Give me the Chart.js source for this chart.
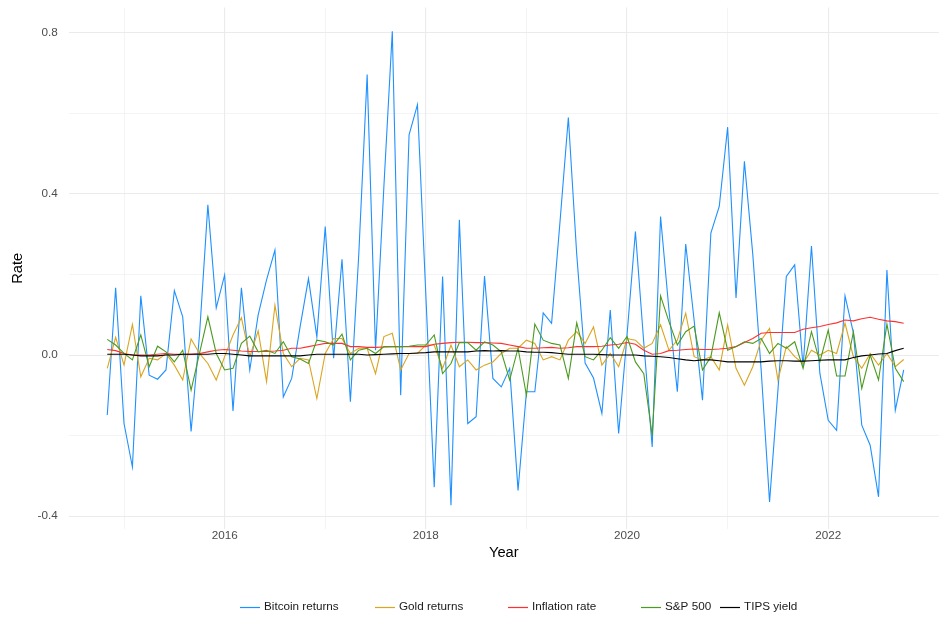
<!DOCTYPE html>
<html><head><meta charset="utf-8">
<script src="https://cdn.jsdelivr.net/npm/chart.js@4"></script>
<style>html,body{margin:0;padding:0;background:#fff}canvas{display:block}</style>
</head><body>
<canvas id="c" width="940" height="622"></canvas>
<script>
const months = [
'2014-11','2014-12',
'2015-01','2015-02','2015-03','2015-04','2015-05','2015-06','2015-07','2015-08','2015-09','2015-10','2015-11','2015-12',
'2016-01','2016-02','2016-03','2016-04','2016-05','2016-06','2016-07','2016-08','2016-09','2016-10','2016-11','2016-12',
'2017-01','2017-02','2017-03','2017-04','2017-05','2017-06','2017-07','2017-08','2017-09','2017-10','2017-11','2017-12',
'2018-01','2018-02','2018-03','2018-04','2018-05','2018-06','2018-07','2018-08','2018-09','2018-10','2018-11','2018-12',
'2019-01','2019-02','2019-03','2019-04','2019-05','2019-06','2019-07','2019-08','2019-09','2019-10','2019-11','2019-12',
'2020-01','2020-02','2020-03','2020-04','2020-05','2020-06','2020-07','2020-08','2020-09','2020-10','2020-11','2020-12',
'2021-01','2021-02','2021-03','2021-04','2021-05','2021-06','2021-07','2021-08','2021-09','2021-10','2021-11','2021-12',
'2022-01','2022-02','2022-03','2022-04','2022-05','2022-06','2022-07','2022-08','2022-09','2022-10'];

const bitcoinReturns = [
-0.149,0.167,
-0.170,-0.278,0.147,-0.050,-0.060,-0.037,0.160,0.095,-0.190,0.050,0.373,0.117,
0.199,-0.139,0.167,-0.037,0.100,0.187,0.261,-0.104,-0.058,0.070,0.190,0.045,
0.319,-0.008,0.238,-0.116,0.250,0.697,0.012,0.420,0.804,-0.100,0.547,0.622,
0.150,-0.328,0.195,-0.373,0.336,-0.170,-0.153,0.196,-0.058,-0.079,-0.033,-0.336,
-0.091,-0.091,0.105,0.079,0.330,0.590,0.250,-0.020,-0.057,-0.145,0.112,-0.195,
0.050,0.307,0.030,-0.228,0.344,0.112,-0.091,0.276,0.087,-0.112,0.303,0.369,
0.566,0.142,0.481,0.250,-0.037,-0.365,-0.087,0.195,0.224,-0.029,0.271,-0.045,
-0.162,-0.187,0.147,0.055,-0.174,-0.224,-0.352,0.211,-0.137,-0.037];

const goldReturns = [
-0.033,0.044,
-0.025,0.076,-0.054,-0.008,-0.012,0.004,-0.025,-0.062,0.040,0.004,-0.021,-0.062,
-0.004,0.050,0.093,-0.004,0.060,-0.066,0.124,0.004,-0.029,-0.008,-0.012,-0.108,
0.004,0.041,0.041,0.004,0.017,0.017,-0.046,0.046,0.054,-0.037,0.004,0.004,
0.025,0.025,-0.033,0.025,-0.029,-0.012,-0.037,-0.025,-0.017,0.004,0.017,0.017,
0.037,0.029,-0.012,-0.004,-0.012,0.037,0.058,0.029,0.070,-0.025,0.004,-0.029,
0.041,0.037,0.017,0.029,0.075,0.012,0.037,0.104,-0.004,-0.012,-0.004,-0.037,
0.075,-0.033,-0.075,-0.029,0.037,0.066,-0.062,0.021,-0.004,-0.021,0.012,0.000,
0.012,0.004,0.079,-0.004,-0.033,0.004,-0.025,0.004,-0.029,-0.011];

const inflationRate = [
0.014,0.011,
0.004,0.000,0.000,0.000,0.002,0.004,0.002,0.002,0.002,0.004,0.008,0.012,
0.014,0.012,0.010,0.009,0.009,0.009,0.010,0.012,0.017,0.017,0.021,0.025,
0.029,0.029,0.029,0.021,0.021,0.019,0.019,0.020,0.021,0.021,0.021,0.021,
0.021,0.027,0.029,0.031,0.032,0.032,0.031,0.031,0.030,0.029,0.025,0.021,
0.017,0.017,0.018,0.019,0.017,0.018,0.021,0.021,0.021,0.022,0.025,0.027,
0.031,0.027,0.012,0.002,0.004,0.011,0.012,0.014,0.015,0.014,0.014,0.015,
0.017,0.021,0.031,0.041,0.054,0.056,0.056,0.056,0.056,0.064,0.068,0.071,
0.076,0.080,0.087,0.085,0.090,0.094,0.089,0.085,0.083,0.079];

const sp500 = [
0.039,0.025,
0.004,-0.012,0.050,-0.029,0.022,0.008,-0.017,0.012,-0.087,0.004,0.095,0.004,
-0.037,-0.033,0.029,0.047,0.008,0.012,0.004,0.033,-0.004,-0.010,-0.021,0.037,
0.033,0.025,0.052,-0.012,0.012,0.017,0.004,0.021,0.021,0.021,0.022,0.025,
0.025,0.050,-0.046,-0.021,0.031,0.031,0.012,0.033,0.025,0.008,-0.062,0.017,
-0.100,0.077,0.037,0.029,0.025,-0.058,0.080,-0.004,-0.012,0.012,0.043,0.017,
0.046,-0.017,-0.046,-0.200,0.147,0.083,0.025,0.058,0.072,-0.037,-0.004,0.105,
0.012,0.021,0.033,0.029,0.041,0.004,0.029,0.017,0.033,-0.033,0.058,-0.017,
0.062,-0.052,-0.052,0.058,-0.083,0.000,-0.062,0.077,-0.033,-0.066];

const tipsYield = [
0.002,0.002,
0.002,0.000,-0.002,-0.002,-0.002,0.000,0.000,0.002,0.002,0.002,0.002,0.004,
0.004,0.002,0.000,-0.002,-0.002,-0.002,-0.002,-0.002,-0.002,-0.002,0.000,0.002,
0.002,0.002,0.002,0.002,0.002,0.000,0.001,0.002,0.003,0.004,0.004,0.005,
0.006,0.008,0.008,0.008,0.008,0.008,0.010,0.011,0.010,0.011,0.010,0.010,
0.008,0.007,0.007,0.006,0.004,0.002,0.002,0.002,0.002,0.001,0.000,0.000,
0.000,0.000,-0.002,-0.003,-0.004,-0.006,-0.009,-0.012,-0.014,-0.012,-0.012,-0.014,
-0.017,-0.017,-0.017,-0.017,-0.017,-0.015,-0.014,-0.014,-0.015,-0.015,-0.014,-0.013,
-0.012,-0.012,-0.012,-0.006,-0.002,0.000,0.0025,0.004,0.011,0.017];

const seriesNames = ['Bitcoin returns','Gold returns','Inflation rate','S&P 500','TIPS yield'];
const seriesColors = ['#1E90FF','#DAA520','#FF3030','#4C9A1F','#000000'];
const xTickValues = [2015,2016,2017,2018,2019,2020,2021,2022];
const xTickLabels = {2016:'2016',2018:'2018',2020:'2020',2022:'2022'};
const yTickValues = [-0.4,-0.2,0,0.2,0.4,0.6,0.8];
const yTickLabels = {'-0.4':'-0.4','0':'0.0','0.4':'0.4','0.8':'0.8'};

function toYear(m){const p=m.split('-').map(Number);return p[0]+(p[1]-1)/12;}
function pts(vals){return months.map((m,i)=>({x:toYear(m),y:vals[i]}));}
const allSeries=[bitcoinReturns,goldReturns,inflationRate,sp500,tipsYield];

// legend layout (pixel placement of the bottom legend row)
const LEGEND_KEY_X=[240,375,508,641,720], LEGEND_Y=607, LEGEND_KEY_LEN=20, LEGEND_TEXT_GAP=24;
const bottomLegend={id:'bottomLegend',afterDraw(chart){
  const ctx=chart.ctx; ctx.save();
  ctx.font="11.7px 'Liberation Sans', Arial, sans-serif"; ctx.textBaseline='middle'; ctx.textAlign='left';
  chart.data.datasets.forEach((ds,i)=>{
    const x=LEGEND_KEY_X[i];
    ctx.strokeStyle=ds.borderColor; ctx.lineWidth=1.2;
    ctx.beginPath(); ctx.moveTo(x,LEGEND_Y+0.5); ctx.lineTo(x+LEGEND_KEY_LEN,LEGEND_Y+0.5); ctx.stroke();
    ctx.fillStyle='#1a1a1a'; ctx.fillText(ds.label,x+LEGEND_TEXT_GAP,LEGEND_Y);
  });
  ctx.restore();
}};

Chart.defaults.font.family="'Liberation Sans', Arial, sans-serif";
const gridLW = (isMajor)=>isMajor?1.1:0.55;

new Chart(document.getElementById('c'),{
  type:'line',
  data:{datasets:allSeries.map((s,i)=>({
    label:seriesNames[i],data:pts(s),borderColor:seriesColors[i],backgroundColor:seriesColors[i],
    borderWidth:1.1,pointRadius:0,tension:0,fill:false,order:5-i
  }))},
  plugins:[bottomLegend],
  options:{
    responsive:false,animation:false,devicePixelRatio:1,
    layout:{padding:{top:7.6,left:0,right:1.1,bottom:0}},
    plugins:{tooltip:{enabled:false},legend:{display:false}},
    scales:{
      x:{type:'linear',min:2014.45,max:2023.1,
        afterBuildTicks:s=>{s.ticks=xTickValues.map(v=>({value:v}));},
        afterFit:s=>{s.height=93;s.paddingLeft=0;s.paddingRight=0;},
        ticks:{autoSkip:false,maxRotation:0,padding:0,color:'#4d4d4d',font:{size:11.7},callback:v=>xTickLabels[v]||''},
        grid:{drawTicks:false,color:'#ebebeb',lineWidth:c=>gridLW(!!xTickLabels[c.tick&&c.tick.value])},
        border:{display:false},
        title:{display:true,text:'Year',color:'#000',font:{size:14.7},padding:{top:0,bottom:60.6}}
      },
      y:{type:'linear',min:-0.432,max:0.863,
        afterBuildTicks:s=>{s.ticks=yTickValues.map(v=>({value:v}));},
        afterFit:s=>{s.width=68.7;s.paddingTop=0;s.paddingBottom=0;},
        ticks:{autoSkip:false,padding:11,color:'#4d4d4d',font:{size:11.7},callback:v=>yTickLabels[String(+v.toFixed(1))]||''},
        grid:{drawTicks:false,color:'#ebebeb',lineWidth:c=>gridLW(!!yTickLabels[String(+((c.tick?c.tick.value:0).toFixed(1)))])},
        border:{display:false},
        title:{display:true,text:'Rate',color:'#000',font:{size:14.7},padding:{top:9.6,bottom:0}}
      }
    }
  }
});
</script>
</body></html>
